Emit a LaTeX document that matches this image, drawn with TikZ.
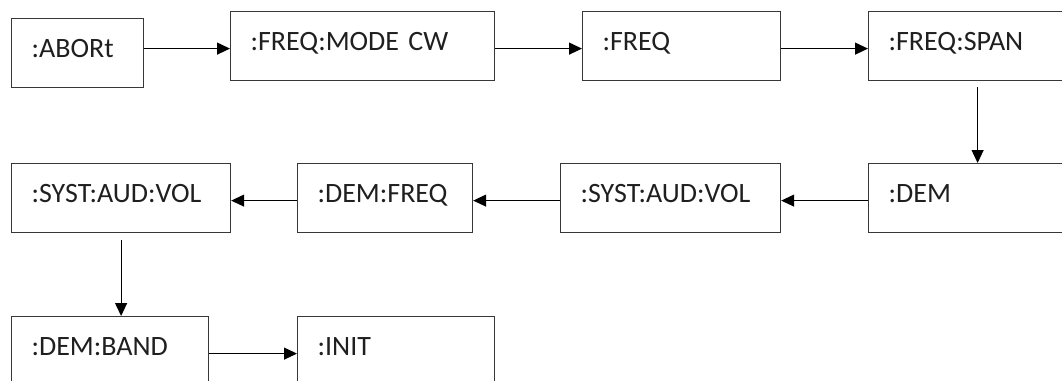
\documentclass[tikz,border=0pt]{standalone}
\usepackage{fontspec}
\setmainfont{Carlito}
\usetikzlibrary{arrows.meta}
\begin{document}
\begin{tikzpicture}[x=1pt,y=-1pt,
  cmdbox/.style={draw=black!78, line width=1.2pt, rectangle, anchor=north west,
    minimum height=69pt, inner xsep=20pt, inner ysep=0pt,
    text width=#1, align=left, text height=18pt, text depth=9pt,
    font=\fontsize{28}{32}\selectfont, text=black!88},
  flow/.style={draw=black, line width=1.2pt, -{Triangle[length=13pt,width=12pt]}},
]
\useasboundingbox (0,0) rectangle (1062,380);
\clip (0,0) rectangle (1062,380);

% first row
\node[cmdbox=92pt]  (abort) at (11,18)  {:ABORt};
\node[cmdbox=224pt] (mode)  at (230,11) {:FREQ:MODE CW};
\node[cmdbox=158pt] (freq)  at (582,11) {:FREQ};
\node[cmdbox=178pt] (span)  at (868,11) {:FREQ:SPAN};

% second row, read right to left
\node[cmdbox=178pt] (dem)   at (868,163) {:DEM};
\node[cmdbox=180pt] (vol2)  at (560,163) {:SYST:AUD:VOL};
\node[cmdbox=135pt] (dfreq) at (297,163) {:DEM:FREQ};
\node[cmdbox=179pt] (vol1)  at (11,163)  {:SYST:AUD:VOL};

% third row
\node[cmdbox=157pt] (band)  at (11,316)  {:DEM:BAND};
\node[cmdbox=157pt] (init)  at (297,316) {:INIT};

% connectors
\draw[flow] ([yshift=4.5pt]abort.east) -- ([yshift=-2.5pt]mode.west);
\draw[flow] ([yshift=-2.5pt]mode.east) -- ([yshift=-2.5pt]freq.west);
\draw[flow] ([yshift=-2.5pt]freq.east) -- ([yshift=-2.5pt]span.west);
\draw[flow, shorten <=6pt] (span.south) -- (dem.north);
\draw[flow] ([yshift=-2.5pt]dem.west) -- ([yshift=-2.5pt]vol2.east);
\draw[flow] ([yshift=-2.5pt]vol2.west) -- ([yshift=-2.5pt]dfreq.east);
\draw[flow] ([yshift=-2.5pt]dfreq.west) -- ([yshift=-2.5pt]vol1.east);
\draw[flow, shorten <=7pt] (vol1.south) -- (vol1.south |- band.north);
\draw[flow] ([yshift=-2.5pt]band.east) -- ([yshift=-2.5pt]init.west);
\end{tikzpicture}
\end{document}
